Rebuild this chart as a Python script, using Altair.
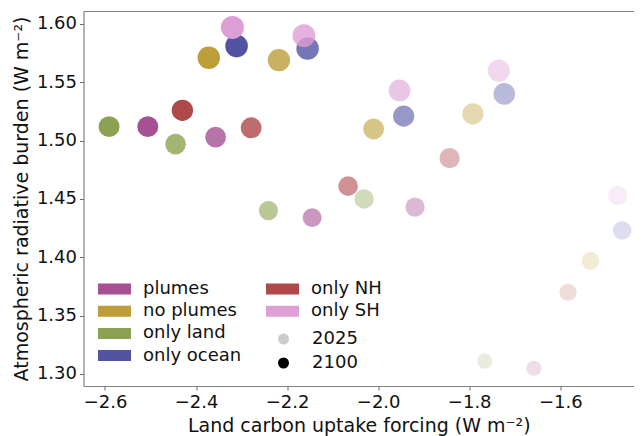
import altair as alt
import pandas as pd

# categories and colours (legend order)
categories = ["plumes", "no plumes", "only land", "only ocean", "only NH", "only SH"]
colors = ["#a55194", "#bd9e39", "#8ca252", "#5254a3", "#ad494a", "#de9ed6"]

# time slices, from 2100 (opaque) back to 2025 (faint)
years = [2100, 2080, 2060, 2040, 2025]

# land carbon uptake forcing (W m-2) per case, ordered as `years`
plumes_x = [-2.506, -2.357, -2.145, -1.919, -1.658]
noplumes_x = [-2.372, -2.218, -2.010, -1.792, -1.534]
land_x = [-2.591, -2.445, -2.241, -2.031, -1.766]
ocean_x = [-2.311, -2.155, -1.944, -1.723, -1.464]
nh_x = [-2.430, -2.279, -2.066, -1.843, -1.583]
sh_x = [-2.320, -2.163, -1.953, -1.735, -1.474]

# atmospheric radiative burden (W m-2) per case, ordered as `years`
plumes_y = [1.512, 1.503, 1.434, 1.443, 1.305]
noplumes_y = [1.571, 1.569, 1.510, 1.523, 1.397]
land_y = [1.512, 1.497, 1.440, 1.450, 1.311]
ocean_y = [1.581, 1.579, 1.521, 1.540, 1.423]
nh_y = [1.526, 1.511, 1.461, 1.485, 1.370]
sh_y = [1.597, 1.590, 1.543, 1.560, 1.453]

x_ticks = [-2.6, -2.4, -2.2, -2.0, -1.8, -1.6]
y_ticks = [1.30, 1.35, 1.40, 1.45, 1.50, 1.55, 1.60]

xs = [plumes_x, noplumes_x, land_x, ocean_x, nh_x, sh_x]
ys = [plumes_y, noplumes_y, land_y, ocean_y, nh_y, sh_y]
rows = []
for cat, xv, yv in zip(categories, xs, ys):
    for yr, a, b in zip(years, xv, yv):
        rows.append({"case": cat, "year": yr, "forcing": a, "burden": b})
df = pd.DataFrame(rows)

FONT = "DejaVu Sans"
TXT = "#111111"
FRAME = "#808080"

x_scale = alt.Scale(domain=[-2.6472, -1.4381], nice=False, zero=False)
x_bottom = alt.X(
    "forcing:Q", scale=x_scale,
    axis=alt.Axis(values=x_ticks, format=".1f", title="Land carbon uptake forcing (W m⁻²)",
                  labelPadding=3.5, titleY=30.7, domain=True),
)
x_top = alt.X(
    "forcing:Q", scale=x_scale,
    axis=alt.Axis(orient="top", labels=False, ticks=False, title=None, domain=True),
)
y_enc = alt.Y(
    "burden:Q",
    scale=alt.Scale(domain=[1.2897, 1.6111], nice=False, zero=False),
    axis=alt.Axis(values=y_ticks, format=".2f", title="Atmospheric radiative burden (W m⁻²)",
                  labelPadding=3, titleX=-52.5, domain=True),
)
size_enc = alt.Size("burden:Q", scale=alt.Scale(domain=[1.305, 1.597], range=[225, 529], zero=False),
                    legend=None)

year_dom = sorted(years)
op_legend = alt.Legend(values=[2025, 2100], orient="none", legendX=191, legendY=319, title=None,
                       symbolType="circle", symbolSize=121, symbolFillColor="black",
                       symbolStrokeWidth=0, labelOffset=19.6, rowPadding=6, padding=0,
                       labelFontSize=18, labelFont=FONT, labelColor=TXT)
op_enc = alt.Opacity("year:O", scale=alt.Scale(domain=year_dom, range=[0.2, 1.0]),
                     legend=op_legend)

RECT = "M-1.5,-0.5H1.5V0.5H-1.5Z"


def cat_legend(lx, ly):
    return alt.Legend(orient="none", legendX=lx, legendY=ly, title=None, symbolType=RECT,
                      symbolSize=484, symbolStrokeWidth=0, symbolOpacity=1, labelOffset=17.5,
                      rowPadding=2.2, padding=0, labelFontSize=18, labelFont=FONT, labelColor=TXT)


cats_a = categories[:4]
cats_b = categories[4:]

layer_a = alt.Chart(df[df["case"].isin(cats_a)]).mark_circle(strokeWidth=0).encode(
    x=x_bottom, y=y_enc, size=size_enc, opacity=op_enc,
    color=alt.Color("case:N", scale=alt.Scale(domain=cats_a, range=colors[:4]),
                    legend=cat_legend(20, 267)),
)
layer_b = alt.Chart(df[df["case"].isin(cats_b)]).mark_circle(strokeWidth=0).encode(
    x=x_top, y=y_enc, size=size_enc, opacity=op_enc,
    color=alt.Color("case:N", scale=alt.Scale(domain=cats_b, range=colors[4:]),
                    legend=cat_legend(188, 267)),
)

chart = alt.layer(layer_a, layer_b).resolve_scale(color="independent").resolve_legend(
    color="independent"
).resolve_axis(x="independent").properties(
    width=550.5, height=375,
    autosize=alt.AutoSizeParams(type="none"),
    padding={"left": 75.5, "top": 3, "right": 0, "bottom": 50},
).configure_view(
    stroke=None
).configure_axis(
    grid=False, domainColor=FRAME, domainWidth=1.2, tickSize=4, tickColor="#666666", tickWidth=1,
    labelFont=FONT, labelFontSize=18, labelColor=TXT,
    titleFont=FONT, titleFontSize=19, titleColor=TXT, titleFontWeight="normal",
).configure_legend(
    labelFont=FONT, labelFontSize=18, labelColor=TXT,
)

chart.save("out.html", embed_options={"renderer": "svg", "actions": False})
